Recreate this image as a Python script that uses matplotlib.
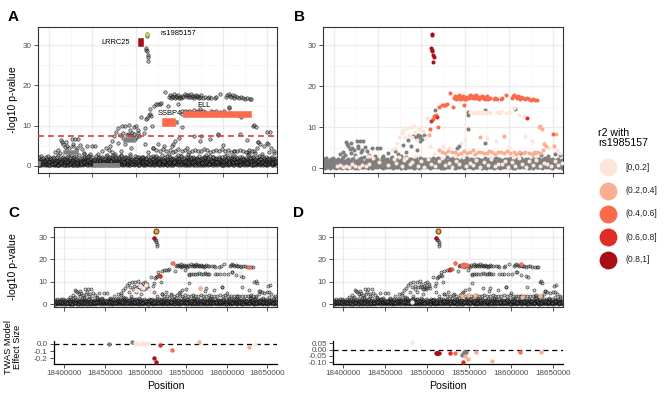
import matplotlib
matplotlib.use('Agg')
import matplotlib.pyplot as plt
from matplotlib.patches import Rectangle
import numpy as np

plt.rcParams['font.family'] = ['Liberation Sans', 'DejaVu Sans']

OFFSET = 18_000_000  # positions below are kb above 18,000,000

# ---------------- data ----------------
band_kb = [
    388.3, 389.1, 389.8, 390.9, 391.5, 392.6, 393.2, 394.4, 395.1, 396.3,
    397.0, 397.9, 398.8, 399.6, 400.7, 401.3, 402.5, 403.1, 404.2, 405.4,
    406.1, 407.2, 407.8, 409.0, 409.7, 410.8, 411.4, 412.6, 413.3, 414.5,
    415.2, 416.3, 416.9, 418.1, 418.8, 419.9, 420.6, 421.7, 422.5, 423.6,
    424.3, 425.4, 426.0, 427.2, 427.9, 429.1, 429.8, 430.9, 431.5, 432.7,
    433.4, 434.5, 435.2, 436.3, 437.0, 438.2, 438.8, 440.0, 440.7, 441.8,
    442.5, 443.6, 444.3, 445.4, 446.1, 447.3, 447.9, 449.1, 449.8, 450.9,
    451.6, 452.7, 453.4, 454.6, 455.2, 456.4, 457.1, 458.2, 458.9, 460.0,
    460.7, 461.9, 462.5, 463.7, 464.4, 465.5, 466.2, 467.4, 468.0, 469.2,
    469.9, 471.0, 471.7, 472.9, 473.5, 474.7, 475.4, 476.5, 477.2, 478.3,
    479.0, 480.2, 480.8, 482.0, 482.7, 483.8, 484.5, 485.7, 486.3, 487.5,
    488.2, 489.3, 490.0, 491.1, 491.8, 493.0, 493.6, 494.8, 495.5, 496.6,
    497.3, 498.5, 499.1, 500.3, 501.0, 502.1, 502.8, 504.0, 504.6, 505.8,
    506.5, 507.6, 508.3, 509.4, 510.1, 511.3, 511.9, 513.1, 513.8, 514.9,
    515.6, 516.8, 517.4, 518.6, 519.3, 520.4, 521.1, 522.2, 522.9, 524.1,
    524.8, 525.9, 526.6, 527.7, 528.4, 529.6, 530.2, 531.4, 532.1, 533.2,
    533.9, 535.1, 535.7, 536.9, 537.6, 538.7, 539.4, 540.5, 541.2, 542.4,
    543.1, 544.2, 544.9, 546.0, 546.7, 547.9, 548.5, 549.7, 550.4, 551.5,
    552.2, 553.4, 554.0, 555.2, 555.9, 557.0, 557.7, 558.8, 559.5, 560.7,
    561.4, 562.5, 563.2, 564.3, 565.0, 566.2, 566.8, 568.0, 568.7, 569.8,
    570.5, 571.7, 572.3, 573.5, 574.2, 575.3, 576.0, 577.1, 577.8, 579.0,
    579.7, 580.8, 581.5, 582.6, 583.3, 584.5, 585.1, 586.3, 587.0, 588.1,
    588.8, 590.0, 590.6, 591.8, 592.5, 593.6, 594.3, 595.4, 596.1, 597.3,
    598.0, 599.1, 599.8, 600.9, 601.6, 602.8, 603.4, 604.6, 605.3, 606.4,
    607.1, 608.3, 608.9, 610.1, 610.8, 611.9, 612.6, 613.7, 614.4, 615.6,
    616.3, 617.4, 618.1, 619.2, 619.9, 621.1, 621.7, 622.9, 623.6, 624.7,
    625.4, 626.6, 627.2, 628.4, 629.1, 630.2, 630.9, 632.0, 632.7, 633.9,
    634.6, 635.7, 636.4, 637.5, 638.2, 639.4, 640.0, 641.2, 641.9, 643.0,
    643.7, 644.9, 645.5, 646.7, 647.4, 648.5, 649.2, 650.3, 651.0, 652.2,
    652.9, 654.0, 654.7, 655.8, 656.5, 657.7, 658.3, 659.5, 660.2, 661.3,
]
band_p_low = [
    0.2, 0.7, 0.1, 0.9, 0.4, 0.3, 1.1, 0.5, 0.1, 0.8,
    0.6, 0.2, 1.0, 0.3, 0.5, 0.9, 0.1, 0.7, 0.4, 0.2,
    0.8, 0.3, 0.5, 0.1, 1.2, 0.6, 0.2, 0.9, 0.4, 0.7,
    0.1, 0.5, 0.8, 0.3, 0.6, 0.2, 1.0, 0.4, 0.7, 0.1,
    0.9, 0.4, 0.2, 0.7, 0.1, 1.1, 0.5, 0.3, 0.8, 0.6,
    0.3, 1.0, 0.6, 0.2, 0.8, 0.4, 0.1, 0.7, 0.5, 0.9,
    0.5, 0.1, 0.9, 0.6, 0.3, 0.7, 1.2, 0.2, 0.4, 0.8,
    0.7, 0.4, 0.2, 1.0, 0.5, 0.1, 0.8, 0.6, 0.3, 0.9,
    0.2, 0.8, 0.5, 0.3, 1.1, 0.7, 0.4, 0.1, 0.9, 0.6,
    1.0, 0.3, 0.7, 0.5, 0.2, 0.9, 0.6, 0.4, 0.1, 0.8,
    0.4, 0.9, 0.1, 0.6, 0.8, 0.3, 0.5, 1.0, 0.2, 0.7,
    0.6, 0.2, 0.8, 0.4, 0.1, 1.1, 0.3, 0.7, 0.5, 0.9,
    0.1, 0.7, 0.4, 0.9, 0.6, 0.2, 0.8, 0.3, 1.0, 0.5,
    0.8, 0.5, 0.3, 0.1, 0.7, 0.9, 0.2, 0.6, 0.4, 1.2,
    0.3, 0.6, 1.0, 0.8, 0.2, 0.4, 0.7, 0.1, 0.9, 0.5,
    0.9, 0.1, 0.6, 0.3, 1.0, 0.5, 0.8, 0.2, 0.7, 0.4,
    0.5, 0.8, 0.2, 0.7, 0.4, 0.1, 0.9, 0.6, 0.3, 1.1,
    0.2, 0.4, 0.9, 0.5, 0.8, 0.6, 0.1, 1.0, 0.7, 0.3,
    0.7, 1.0, 0.4, 0.2, 0.6, 0.9, 0.3, 0.5, 0.1, 0.8,
    0.4, 0.2, 0.7, 1.1, 0.3, 0.8, 0.5, 0.9, 0.6, 0.1,
    1.0, 0.6, 0.3, 0.8, 0.1, 0.5, 0.9, 0.2, 0.7, 0.4,
    0.3, 0.9, 0.5, 0.1, 0.7, 1.0, 0.4, 0.8, 0.2, 0.6,
    0.6, 0.1, 0.8, 0.4, 0.9, 0.2, 0.7, 0.5, 1.1, 0.3,
    0.9, 0.5, 0.2, 0.6, 0.3, 0.7, 1.0, 0.1, 0.4, 0.8,
    0.1, 0.8, 0.6, 0.9, 0.5, 0.3, 0.2, 0.7, 1.0, 0.4,
    0.5, 0.3, 1.0, 0.2, 0.8, 0.6, 0.4, 0.9, 0.1, 0.7,
    0.8, 0.7, 0.1, 0.5, 0.4, 1.1, 0.6, 0.3, 0.9, 0.2,
    0.2, 0.6, 0.9, 0.7, 0.1, 0.4, 0.8, 1.0, 0.5, 0.3,
    0.7, 0.4, 0.3, 1.0, 0.6, 0.8, 0.1, 0.5, 0.2, 0.9,
    0.4, 1.0, 0.7, 0.3, 0.9, 0.2, 0.5, 0.8, 0.6, 0.1,
]
band_p_mid = [
    0.9, 0.3, 1.3, 0.6, 1.0, 0.8, 0.4, 1.4, 0.7, 0.5,
    1.2, 0.5, 0.7, 1.5, 0.3, 1.1, 0.8, 0.4, 1.0, 0.6,
    0.4, 1.3, 0.9, 0.6, 0.8, 0.3, 1.4, 0.5, 1.1, 0.7,
    1.0, 0.7, 0.4, 1.2, 0.9, 1.5, 0.5, 0.8, 0.3, 1.1,
    0.6, 1.1, 1.4, 0.4, 0.9, 0.7, 1.2, 0.5, 1.0, 0.3,
    1.3, 0.5, 0.8, 1.0, 0.4, 1.2, 0.7, 1.1, 0.6, 1.4,
    0.8, 1.4, 0.5, 0.9, 1.2, 0.4, 0.9, 1.1, 0.7, 0.5,
    1.1, 0.6, 1.3, 0.7, 0.8, 1.4, 0.4, 1.0, 0.9, 0.5,
    0.7, 1.0, 0.4, 1.3, 0.6, 0.9, 1.5, 0.8, 0.5, 1.2,
    0.5, 1.2, 0.9, 0.4, 1.1, 0.6, 0.8, 1.3, 1.0, 0.7,
    1.4, 0.7, 0.6, 1.0, 0.5, 1.3, 0.9, 0.4, 1.2, 0.8,
    0.9, 1.1, 0.5, 0.8, 1.4, 0.6, 1.0, 1.2, 0.4, 0.7,
    0.6, 0.4, 1.2, 0.5, 0.9, 1.3, 0.7, 0.6, 1.4, 1.0,
    1.2, 0.9, 0.7, 1.4, 0.4, 0.6, 1.1, 0.8, 0.5, 0.9,
    0.8, 1.3, 0.5, 0.6, 1.1, 0.9, 0.4, 1.4, 0.7, 1.0,
    0.4, 0.8, 1.1, 1.3, 0.6, 0.7, 1.2, 0.5, 0.9, 1.4,
    1.0, 0.5, 0.9, 0.4, 1.3, 0.8, 0.6, 1.1, 1.4, 0.6,
    0.7, 1.2, 0.6, 1.0, 0.5, 1.4, 0.9, 0.4, 1.1, 0.8,
    1.3, 0.6, 1.0, 0.7, 1.2, 0.5, 0.8, 1.4, 0.6, 0.9,
    0.5, 1.0, 1.3, 0.8, 0.6, 1.1, 0.4, 0.7, 1.2, 0.9,
    0.9, 0.4, 0.7, 1.2, 1.0, 0.6, 1.3, 0.5, 0.8, 1.1,
    1.1, 0.7, 1.4, 0.5, 0.9, 0.4, 0.8, 1.2, 0.6, 1.3,
    0.6, 1.2, 0.4, 1.0, 0.7, 1.3, 0.5, 0.9, 1.1, 0.8,
    1.4, 0.8, 0.9, 0.6, 1.1, 0.5, 1.2, 0.7, 0.4, 1.0,
    0.7, 0.5, 1.1, 1.3, 0.8, 1.0, 0.6, 1.4, 0.9, 0.5,
    1.0, 1.3, 0.6, 0.4, 1.2, 0.9, 0.7, 0.5, 1.3, 0.8,
    0.5, 0.9, 1.2, 0.7, 0.6, 1.4, 1.0, 0.8, 0.4, 1.1,
    1.2, 0.6, 0.5, 1.1, 0.9, 0.7, 1.3, 0.4, 1.0, 0.8,
    0.8, 1.1, 1.0, 0.5, 1.4, 0.6, 0.9, 1.2, 0.7, 0.4,
    0.6, 0.9, 1.3, 1.0, 0.5, 0.8, 1.1, 0.7, 1.4, 0.9,
]
band_p_high = [
    1.4, 2.1, 1.0, 1.7, 2.4, 1.2, 1.9, 0.9, 1.5, 2.2,
    1.1, 1.8, 2.5, 1.3, 0.9, 2.0, 1.6, 1.2, 2.3, 1.4,
    1.9, 1.0, 1.5, 2.2, 1.3, 2.6, 1.1, 1.7, 0.9, 2.0,
    1.2, 2.3, 1.6, 1.0, 1.8, 1.4, 2.1, 1.1, 2.5, 1.5,
    2.0, 1.3, 0.9, 1.9, 1.5, 2.2, 1.0, 2.4, 1.6, 1.2,
    1.5, 2.6, 1.2, 1.7, 1.0, 2.0, 1.4, 1.8, 2.3, 1.1,
    1.8, 1.1, 2.2, 1.4, 2.5, 1.0, 1.6, 1.3, 2.1, 0.9,
    1.0, 1.7, 1.3, 2.4, 1.1, 1.9, 2.2, 1.5, 1.2, 2.0,
    2.3, 1.2, 1.8, 1.0, 1.6, 2.5, 1.3, 2.0, 1.4, 1.7,
    1.3, 2.0, 1.1, 2.2, 1.7, 1.0, 2.4, 1.5, 1.9, 1.2,
    1.6, 1.0, 2.1, 1.4, 2.6, 1.8, 1.2, 1.9, 1.0, 2.3,
    2.2, 1.5, 1.1, 2.0, 1.3, 1.7, 2.5, 1.0, 1.8, 1.4,
    1.2, 2.4, 1.7, 1.0, 2.1, 1.5, 1.3, 2.2, 1.6, 1.9,
    1.9, 1.1, 2.3, 1.6, 1.2, 2.0, 1.8, 1.0, 2.5, 1.4,
    1.4, 2.2, 1.0, 1.8, 2.4, 1.3, 1.1, 2.1, 1.5, 1.7,
    2.0, 1.3, 1.9, 1.1, 1.6, 2.6, 1.4, 1.8, 1.0, 2.2,
    1.1, 1.8, 2.4, 1.5, 1.0, 1.7, 2.1, 1.2, 1.9, 1.3,
    1.7, 1.0, 1.4, 2.3, 1.8, 1.2, 2.0, 1.6, 1.1, 2.5,
    2.4, 1.6, 1.2, 1.9, 1.0, 2.1, 1.5, 1.3, 2.2, 1.8,
    1.3, 2.1, 1.7, 1.0, 2.3, 1.4, 1.9, 1.1, 1.6, 2.0,
    1.8, 1.2, 2.5, 1.6, 1.4, 2.0, 1.0, 1.7, 2.2, 1.5,
    1.0, 1.9, 1.3, 2.2, 1.7, 1.1, 2.4, 1.5, 1.2, 2.1,
    2.1, 1.4, 1.8, 1.2, 2.0, 1.6, 1.0, 2.3, 1.7, 1.3,
    1.5, 2.3, 1.0, 1.7, 1.3, 2.5, 1.8, 1.2, 2.0, 1.1,
    1.2, 1.7, 2.2, 1.4, 1.9, 1.0, 1.6, 2.4, 1.3, 1.8,
    1.9, 1.1, 1.5, 2.1, 1.2, 1.8, 2.3, 1.4, 1.7, 1.0,
    1.4, 2.0, 1.2, 1.6, 2.6, 1.3, 1.5, 1.9, 1.1, 2.2,
    2.2, 1.3, 1.7, 1.0, 1.5, 2.1, 1.2, 1.8, 2.4, 1.6,
    1.6, 2.4, 1.1, 1.9, 1.4, 1.0, 2.2, 1.3, 1.7, 2.0,
    1.1, 1.5, 2.0, 1.3, 2.3, 1.7, 1.2, 1.6, 1.0, 1.9,
]

# (kb, -log10 p) for SNPs with no LD value (grey in panel B)
gray_pts = [(410.5, 4.0), (412.8, 3.2), (413.8, 6.3), (416.4, 5.3), (418.0, 4.6), (419.5, 3.6),
            (421.2, 5.0), (423.0, 4.3), (424.6, 3.1), (426.0, 6.7), (427.4, 4.8), (429.8, 6.7),
            (431.1, 3.9), (433.6, 6.7), (435.2, 5.1), (437.9, 4.2), (440.3, 3.3), (443.5, 4.9),
            (446.8, 3.0), (449.2, 5.0), (452.8, 5.0), (456.0, 2.9), (461.5, 3.6), (466.3, 2.8),
            (469.6, 4.05), (473.0, 3.4), (476.2, 2.9), (479.4, 5.6), (482.5, 3.8), (485.2, 6.9),
            (487.9, 5.4), (491.0, 7.9), (493.5, 7.6), (495.6, 8.1), (498.0, 7.8), (502.5, 8.1),
            (494.8, 4.5), (496.5, 7.0), (498.6, 6.7), (500.2, 7.1), (515.8, 14.2), (553.3, 13.7),
            (553.4, 13.0), (553.1, 9.6), (542.6, 5.5), (573.2, 6.1), (573.3, 14.1), (541.0, 4.9),
            (607.0, 14.5), (612.4, 3.7), (628.3, 3.5), (636.6, 3.2), (645.0, 2.9), (652.3, 3.4),
            (658.0, 3.1), (414.5, 5.8), (420.0, 6.0), (428.0, 5.5), (432.0, 4.4), (407.0, 3.4)]

# r2 in [0,0.2]
light_low_pts = [(404.0, 0.4), (407.5, 0.8), (410.2, 0.3), (413.8, 0.6), (417.1, 0.2), (420.5, 0.9),
                 (424.0, 0.5), (428.3, 0.3), (432.0, 0.7), (436.5, 0.4), (439.8, 1.0), (452.0, 1.5),
                 (462.0, 0.8), (468.5, 2.3), (471.2, 1.2), (474.0, 2.8), (477.5, 0.6), (480.3, 1.9),
                 (483.0, 2.5), (486.6, 0.9), (489.2, 1.4), (492.7, 3.0), (496.0, 0.5), (499.5, 1.7),
                 (503.1, 0.3), (507.4, 2.1), (511.0, 1.0), (515.3, 0.4), (519.8, 1.6), (523.4, 2.4),
                 (527.0, 0.7), (531.6, 1.2), (535.2, 0.2), (539.7, 1.8), (543.3, 0.9), (547.8, 2.6),
                 (551.4, 0.5), (555.9, 1.3), (559.5, 0.8), (563.0, 2.0), (567.6, 0.3), (571.2, 1.5),
                 (575.7, 0.7), (579.3, 2.2), (583.8, 0.4), (587.4, 1.1), (591.9, 0.9), (595.5, 1.8),
                 (599.0, 0.2), (603.6, 1.4), (607.2, 0.6), (611.7, 2.5), (615.3, 1.0), (619.8, 0.3),
                 (623.4, 1.7), (627.9, 0.8), (631.5, 2.0), (636.0, 0.5), (640.6, 1.3), (644.2, 0.9),
                 (648.7, 0.4), (652.3, 1.6), (656.8, 0.7), (660.4, 1.2)]
light_pts = [(477.6, 8.5), (479.5, 9.3), (481.4, 7.7), (483.5, 9.8), (485.6, 8.1), (487.6, 9.9),
             (489.5, 7.6), (491.5, 10.2), (493.0, 8.9), (495.0, 6.9), (497.4, 9.6), (499.5, 10.0),
             (501.8, 9.0), (503.7, 7.3), (506.3, 12.2), (472.0, 6.2), (474.8, 7.5), (470.0, 5.0),
             (466.0, 4.4), (555.8, 13.6), (558.5, 13.4), (561.0, 13.7), (563.6, 13.5), (566.2, 13.8),
             (568.9, 13.4), (571.5, 13.6), (574.0, 13.5), (576.6, 13.7), (578.8, 13.4), (586.0, 13.6),
             (588.7, 13.5), (591.4, 13.7), (596.8, 13.5), (601.7, 13.6), (606.5, 14.6), (612.0, 13.0),
             (617.3, 12.6), (575.0, 7.3), (594.0, 7.7), (525.0, 5.5), (532.0, 4.8), (545.0, 6.2),
             (549.5, 7.0), (585.0, 6.6), (600.5, 5.2), (619.0, 7.9), (627.0, 6.5), (640.0, 6.0),
             (646.5, 4.9), (650.0, 5.6), (655.0, 4.4), (659.0, 3.7), (510.0, 5.5), (514.0, 3.5),
             (520.0, 4.4), (538.0, 2.9), (560.0, 3.0), (580.0, 2.8), (605.0, 2.7), (630.0, 2.9),
             (440.0, 3.0), (425.0, 2.8), (445.0, 2.5)]
# r2 in (0.2,0.4]
sal_pts = [(520.0, 4.5), (523.5, 3.9), (527.2, 3.6), (531.0, 4.2), (534.6, 3.8), (538.9, 4.0),
           (542.0, 3.5), (545.3, 3.7), (548.8, 4.1), (552.5, 3.6), (556.0, 3.9), (558.7, 4.3),
           (561.5, 3.5), (564.8, 3.8), (568.0, 4.0), (571.3, 3.6), (574.6, 3.7), (577.9, 4.2),
           (581.2, 3.9), (584.7, 3.5), (588.0, 3.8), (591.5, 4.0), (595.0, 3.6), (598.3, 4.1),
           (601.9, 3.7), (605.4, 3.9), (608.8, 3.5), (612.2, 3.8), (615.7, 3.6), (619.1, 3.9),
           (622.6, 3.7), (626.0, 3.5), (629.4, 4.0), (632.8, 3.8), (636.1, 3.6), (639.5, 4.4),
           (634.2, 10.0), (636.1, 10.2), (637.5, 9.6), (640.5, 5.9), (643.0, 5.4), (652.0, 5.3),
           (653.5, 8.4), (508.9, 8.1), (566.8, 7.5), (594.3, 7.9)]
# r2 in (0.4,0.6]
org_pts = [(510.0, 9.5), (513.1, 12.0), (514.6, 12.6), (516.5, 12.9), (518.8, 9.9), (520.3, 15.0),
           (523.4, 15.4), (525.4, 15.5), (527.6, 15.5), (529.3, 15.7), (533.3, 18.3), (536.4, 15.0),
           (537.9, 17.2), (538.8, 17.6), (539.9, 16.9), (541.0, 17.4), (542.2, 17.1), (543.3, 17.8),
           (544.4, 16.8), (545.5, 17.3), (546.7, 17.0), (547.8, 17.5), (548.3, 15.4), (549.0, 16.9),
           (550.2, 17.2), (551.3, 16.8), (552.5, 17.4), (554.0, 17.1), (555.8, 17.9), (557.0, 17.3),
           (558.1, 17.6), (559.3, 17.0), (560.5, 17.5), (561.6, 17.2), (562.8, 17.8), (564.0, 17.1),
           (565.2, 17.4), (566.4, 16.9), (567.6, 17.3), (568.8, 17.6), (570.0, 17.0), (571.2, 17.3),
           (572.5, 16.8), (573.8, 17.2), (575.0, 17.5), (576.5, 16.9), (578.8, 17.0), (582.6, 16.9),
           (584.2, 17.1), (586.0, 16.8), (591.0, 16.8), (592.5, 17.0), (597.0, 17.9), (603.6, 17.2),
           (605.0, 17.6), (606.5, 17.9), (608.0, 17.4), (609.5, 17.1), (611.0, 17.6), (612.5, 16.9),
           (614.0, 17.3), (616.0, 17.1), (618.0, 16.8), (620.5, 17.2), (623.0, 16.9), (625.5, 16.7),
           (628.0, 16.8), (630.5, 16.6), (632.3, 16.7), (651.0, 8.3)]
# r2 in (0.6,0.8]
red_pts = [(511.5, 11.6), (517.5, 12.5), (620.5, 12.2)]
# r2 in (0.8,1]
dred_pts = [(512.5, 32.7), (512.3, 32.4), (511.0, 29.4), (511.6, 28.9), (512.5, 28.5),
            (513.6, 27.6), (514.3, 27.1), (513.8, 26.0)]
lead_kb, lead_p = 512.5, 32.7
lead_name = 'rs1985157'

# genes (panel A)
gene_names = ['LRRC25', 'SSBP4', 'ELL']
gene_start_kb = [501.9, 529.4, 554.2]
gene_end_kb = [508.4, 544.7, 632.7]
gene_ymin = [29.85, 9.95, 12.1]
gene_ymax = [31.8, 11.85, 13.75]
other_start_kb = [388.0, 416.4, 450.9, 485.3, 544.7]
other_end_kb = [390.0, 433.6, 480.4, 498.7, 548.5]
other_ymin = [0.25, 3.0, -0.2, 6.0, 10.3]
other_ymax = [1.3, 4.0, 0.8, 7.1, 11.3]
gwas_threshold = 7.3

# TWAS model SNPs: (kb, -log10 p, r2 class)
c_top = [(510.6, 29.5, 4), (533.8, 18.4, 2), (517.5, 12.5, 3), (627.0, 16.7, 2), (567.3, 7.5, 1),
         (489.0, 6.5, 0), (493.0, 8.0, 0), (497.0, 7.2, 0), (501.0, 8.6, 0), (505.0, 6.2, 0),
         (617.0, 13.9, 0)]
c_eff = [(455.5, 0.0, -1), (484.0, 0.03, -1), (487.5, 0.02, 0), (490.0, 0.01, 0), (493.0, 0.0, 0),
         (496.5, 0.015, 0), (500.0, 0.005, 0), (503.5, 0.01, 0), (510.6, -0.2, 4), (513.4, -0.25, 4),
         (517.5, -0.02, 3), (533.0, -0.09, 2), (566.5, 0.03, 1), (627.0, -0.04, 1), (635.0, 0.0, 0)]
d_top = [(510.4, 29.5, 4), (533.0, 18.5, 2), (527.0, 15.6, 3), (541.0, 17.5, 2), (543.0, 17.3, 2),
         (545.0, 17.6, 2), (547.0, 17.4, 2), (611.6, 17.9, 2), (541.0, 3.9, 1), (549.0, 4.2, 1),
         (557.0, 4.0, 1), (613.0, 3.4, 1), (635.0, 3.7, 1), (482.2, 1.0, 0)]
d_eff = [(482.2, 0.062, 0), (510.4, -0.025, 4), (511.3, -0.028, 4), (512.2, -0.024, 4),
         (513.2, -0.027, 4), (514.3, -0.025, 4), (527.0, -0.03, 3), (533.4, -0.025, 2),
         (541.0, -0.045, -1), (542.1, -0.10, 3), (543.0, -0.035, -1), (544.0, -0.02, -1),
         (545.0, -0.05, 1), (546.0, -0.015, -1), (549.0, -0.07, 1), (557.6, -0.015, 1),
         (577.4, -0.09, 1), (611.2, -0.02, 2), (635.4, -0.016, 1)]

r2_labels = ['[0,0.2]', '(0.2,0.4]', '(0.4,0.6]', '(0.6,0.8]', '(0.8,1]']
r2_colors = ['#FEE5D9', '#FCAE91', '#FB6A4A', '#DE2D26', '#A50F15']
NA_COLOR = '#7F7F7F'
x_breaks = [18400000, 18450000, 18500000, 18550000, 18600000, 18650000]

# ---------------- helpers ----------------
W, H = 666, 400
fig = plt.figure(figsize=(W / 100, H / 100), dpi=100)


def ax_px(l, t, r, b):
    return fig.add_axes([l / W, 1 - b / H, (r - l) / W, (b - t) / H])


def pos(kb):
    return OFFSET + np.asarray(kb, dtype=float) * 1000


def split(pts):
    a = np.array(pts, dtype=float)
    return a[:, 0], a[:, 1]


def cat_color(c):
    return NA_COLOR if c < 0 else r2_colors[int(c)]


XLIM = (18387500, 18662000)
TICK_COL = '#333333'
LAB_COL = '#4D4D4D'

band_all_kb = list(band_kb) * 3
band_all_p = list(band_p_low) + list(band_p_mid) + list(band_p_high)
all_kb = list(band_all_kb)
all_p = list(band_all_p)
for grp in (light_low_pts, gray_pts, light_pts, sal_pts, org_pts, red_pts, dred_pts):
    k, p = split(grp)
    all_kb += list(k)
    all_p += list(p)


def style_bw(ax, ylim, yticks=(0, 10, 20, 30)):
    ax.set_xlim(*XLIM)
    ax.set_ylim(*ylim)
    ax.set_xticks(x_breaks)
    ax.set_xticks([18425000, 18475000, 18525000, 18575000, 18625000], minor=True)
    ax.set_yticks(list(yticks))
    ax.set_yticks([5, 15, 25], minor=True)
    ax.set_xticklabels([])
    ax.grid(which='major', color='#EBEBEB', lw=0.9)
    ax.grid(which='minor', color='#F4F4F4', lw=0.5)
    ax.set_axisbelow(True)
    for s in ax.spines.values():
        s.set_color('#333333')
        s.set_linewidth(0.8)
    ax.tick_params(which='major', length=3, width=0.6, color=TICK_COL, labelsize=5.8,
                   labelcolor=LAB_COL, pad=2)
    ax.tick_params(which='minor', length=0)


def style_classic(ax, ylim, yticks, ylabels):
    ax.set_xlim(*XLIM)
    ax.set_ylim(*ylim)
    ax.set_xticks(x_breaks)
    ax.set_xticklabels([str(v) for v in x_breaks])
    ax.set_yticks(yticks)
    ax.set_yticklabels(ylabels)
    for s in ('top', 'right'):
        ax.spines[s].set_visible(False)
    for s in ('left', 'bottom'):
        ax.spines[s].set_color('black')
        ax.spines[s].set_linewidth(0.9)
    ax.tick_params(length=3, width=0.6, color=TICK_COL, labelsize=5.8, labelcolor=LAB_COL, pad=1.5)
    ax.axhline(0, color='black', lw=0.9, ls=(0, (4, 3)), zorder=1)


grey_face = (0.45, 0.45, 0.45, 0.45)
grey_edge = (0.0, 0.0, 0.0, 0.7)

# ---------------- Panel A ----------------
axA = ax_px(38, 27, 277, 173)
style_bw(axA, (-1.8, 34.55))
axA.scatter(pos(all_kb), all_p, s=6, facecolors=[grey_face], edgecolors=[grey_edge],
            linewidths=0.5, zorder=2)
axA.axhline(gwas_threshold, color='#D7402F', lw=1.2, ls=(0, (3.5, 2.5)), zorder=3)
for s0, s1, y0, y1 in zip(other_start_kb, other_end_kb, other_ymin, other_ymax):
    axA.add_patch(Rectangle((pos(s0), y0), pos(s1) - pos(s0), y1 - y0, facecolor='#808080',
                            edgecolor='#9A9A9A', lw=0.4, zorder=4))
gcol = ['#A50F15', '#FB6A4A', '#FB6A4A']
for s0, s1, y0, y1, c in zip(gene_start_kb, gene_end_kb, gene_ymin, gene_ymax, gcol):
    axA.add_patch(Rectangle((pos(s0), y0), pos(s1) - pos(s0), y1 - y0, facecolor=c,
                            edgecolor=c, lw=0.4, zorder=5))
axA.scatter([pos(lead_kb)], [lead_p], s=7, facecolors='#D8D474', edgecolors='#B8B050',
            linewidths=0.4, zorder=6)
lab_fs = 5.4
axA.text(pos(493.0), 30.7, gene_names[0], ha='right', va='center', fontsize=lab_fs, zorder=7)
axA.text(pos(528.2), 33.0, lead_name, ha='left', va='center', fontsize=lab_fs, zorder=7)
axA.text(pos(539.3), 12.9, gene_names[1], ha='center', va='center', fontsize=lab_fs, zorder=7)
axA.text(pos(578.3), 14.9, gene_names[2], ha='center', va='center', fontsize=lab_fs, zorder=7)

# ---------------- Panel B ----------------
axB = ax_px(323, 27, 563, 173)
style_bw(axB, (-1.22, 34.46))
gk, gp = split(gray_pts)
axB.scatter(pos(band_all_kb + list(gk)), band_all_p + list(gp),
            s=8.5, c=NA_COLOR, linewidths=0, zorder=2)
for grp, ci in ((light_low_pts, 0), (light_pts, 0), (sal_pts, 1), (org_pts, 2), (red_pts, 3),
                (dred_pts, 4)):
    k, p = split(grp)
    axB.scatter(pos(k), p, s=8.5, c=r2_colors[ci], linewidths=0, zorder=3 + ci)


# ---------------- Panels C / D ----------------
def twas_panels(left, right, top_pts, eff_pts, eff_ylim, eff_ticks, eff_labels):
    axT = ax_px(left, 227, right, 307)
    style_bw(axT, (-1.2, 34.5))
    axT.scatter(pos(all_kb), all_p, s=5, facecolors=[(0.5, 0.5, 0.5, 0.4)],
                edgecolors=[(0, 0, 0, 0.68)], linewidths=0.45, zorder=2)
    for k, p, c in top_pts:
        axT.scatter([pos(k)], [p], s=10, c=cat_color(c), linewidths=0, zorder=4)
    axT.scatter([pos(lead_kb)], [lead_p], s=13, facecolors='#EFA23A', edgecolors='#5A2A05',
                linewidths=0.6, zorder=6)
    axE = ax_px(left, 341, right, 364)
    style_classic(axE, eff_ylim, eff_ticks, eff_labels)
    for k, e, c in eff_pts:
        axE.scatter([pos(k)], [e], s=10, c=cat_color(c), linewidths=0, zorder=3, clip_on=False)
    return axT, axE


axCt, axCe = twas_panels(54, 277, c_top, c_eff, (-0.28, 0.042), [0.0, -0.1, -0.2],
                         ['0.0', '-0.1', '-0.2'])
axDt, axDe = twas_panels(333, 563, d_top, d_eff, (-0.113, 0.068), [0.05, 0.0, -0.05, -0.10],
                         ['0.05', '0.00', '-0.05', '-0.10'])

# ---------------- overlay text & legend ----------------
ov = fig.add_axes([0, 0, 1, 1], zorder=10)
ov.set_xlim(0, W)
ov.set_ylim(H, 0)
ov.axis('off')

for lab, x, y in (('A', 8, 21), ('B', 294, 21), ('C', 8, 217), ('D', 293, 217)):
    ov.text(x, y, lab, fontsize=11, fontweight='bold', ha='left', va='baseline')

tfs = 7.6
ov.text(13, 100, '-log10 p-value', rotation=90, ha='center', va='center', fontsize=tfs)
ov.text(13, 267, '-log10 p-value', rotation=90, ha='center', va='center', fontsize=tfs)
ov.text(13, 347, 'TWAS Model\nEffect Size', rotation=90, ha='center', va='center',
        fontsize=6.7, linespacing=0.95)
ov.text(166, 386, 'Position', ha='center', va='center', fontsize=tfs)
ov.text(448, 386, 'Position', ha='center', va='center', fontsize=tfs)

ov.text(598, 128, 'r2 with\n' + lead_name, ha='left', va='top', fontsize=tfs, linespacing=1.0)
leg_y = [167, 190.5, 214, 237, 260]
for yy, col, lab in zip(leg_y, r2_colors, r2_labels):
    ov.scatter([608], [yy], s=165, c=col, linewidths=0)
    ov.text(625, yy, lab, ha='left', va='center', fontsize=6.2, color='#222222')

fig.savefig('out.png', dpi=100)
